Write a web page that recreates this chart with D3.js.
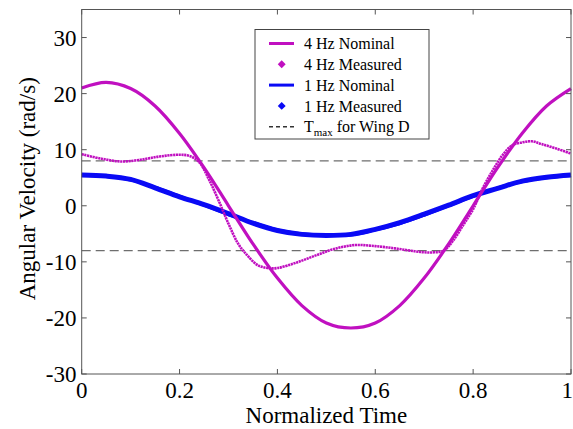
<!DOCTYPE html>
<html>
<head>
<meta charset="utf-8">
<script src="https://cdn.jsdelivr.net/npm/d3@7"></script>
<style>
  body { margin: 0; background: #fff; }
  svg { display: block; }
</style>
</head>
<body>
<div id="chart"></div>
<script>
// values
const nominalT = [0, 0.05, 0.1, 0.15, 0.2, 0.25, 0.3, 0.35, 0.4, 0.45, 0.5, 0.55, 0.6, 0.65, 0.7, 0.75, 0.8, 0.85, 0.9, 0.95, 1];
const nominal4Hz = [21.0, 22.0, 20.9, 17.8, 12.9, 6.8, 0.0, -6.8, -12.9, -17.8, -20.9, -21.8, -20.9, -17.8, -12.9, -6.8, 0.0, 6.8, 12.9, 17.8, 20.9];
const nominal1Hz = [5.4, 5.3, 4.6, 3.3, 1.7, 0.1, -1.6, -3.0, -4.3, -5.0, -5.3, -5.2, -4.3, -3.2, -1.7, 0.0, 1.7, 3.2, 4.3, 5.0, 5.4];

const measured4T = [0, 0.04, 0.08, 0.12, 0.16, 0.2, 0.22, 0.24, 0.26, 0.28, 0.3, 0.32, 0.34, 0.36, 0.38, 0.4, 0.44, 0.48, 0.52, 0.56, 0.6, 0.64, 0.68, 0.7, 0.72, 0.74, 0.76, 0.78, 0.8, 0.82, 0.84, 0.86, 0.88, 0.9, 0.92, 0.94, 0.97, 1];
const measured4Hz = [9.2, 8.4, 7.9, 8.2, 8.8, 9.1, 8.9, 7.8, 4.7, 0.9, -3.2, -6.8, -9.0, -10.6, -11.1, -11.1, -10.1, -8.8, -7.6, -7.0, -7.2, -7.6, -8.1, -8.3, -8.3, -8.0, -6.1, -3.4, -0.6, 3.2, 6.3, 9.0, 10.8, 11.3, 11.5, 11.0, 10.2, 9.3];

const measured1T = [0, 0.05, 0.1, 0.15, 0.2, 0.25, 0.3, 0.35, 0.4, 0.45, 0.5, 0.55, 0.6, 0.65, 0.7, 0.75, 0.8, 0.85, 0.9, 0.95, 1];
const measured1Hz = [5.5, 5.3, 4.7, 3.2, 1.6, 0.2, -1.4, -3.1, -4.4, -5.1, -5.3, -5.1, -4.2, -3.0, -1.5, 0.1, 1.8, 3.1, 4.4, 5.1, 5.5];

const tmax = 8;
const xTicks = [0, 0.2, 0.4, 0.6, 0.8, 1];
const yTicks = [-30, -20, -10, 0, 10, 20, 30];

const legendItems = [
  { label: '4 Hz Nominal', kind: 'line', color: '#c010c0' },
  { label: '4 Hz Measured', kind: 'diamond', color: '#c010c0' },
  { label: '1 Hz Nominal', kind: 'line', color: '#0a0af5' },
  { label: '1 Hz Measured', kind: 'diamond', color: '#0a0af5' },
  { label: 'Tmax', kind: 'dash', color: '#333' },
];

// pick the first serif face that is really there (fallback widths differ)
function pickFont(cands) {
  const ctx = document.createElement('canvas').getContext('2d');
  const probe = 'Normalized Time 0.123 Wg';
  ctx.font = '40px monospace';
  const mono = ctx.measureText(probe).width;
  ctx.font = '40px sans-serif';
  const sans = ctx.measureText(probe).width;
  for (const f of cands) {
    ctx.font = `40px "${f}", monospace`;
    const a = ctx.measureText(probe).width;
    ctx.font = `40px "${f}", sans-serif`;
    const b = ctx.measureText(probe).width;
    if (a !== mono || b !== sans) return `"${f}"`;
  }
  return 'serif';
}
const serif = pickFont(['Liberation Serif', 'Times New Roman', 'Tinos', 'DejaVu Serif', 'Noto Serif', 'FreeSerif', 'Nimbus Roman', 'Times']) + ', serif';

const W = 573, H = 429;
const margin = { top: 9.5, right: 2, bottom: 55, left: 81.7 };
const fs = 23;

const svg = d3.select('#chart').append('svg')
  .attr('width', W)
  .attr('height', H)
  .style('font-family', serif);

const x = d3.scaleLinear().domain([0, 1]).range([margin.left, W - margin.right]);
const y = d3.scaleLinear().domain([-30, 35]).range([H - margin.bottom, margin.top]);

const axisColor = '#555';

// Tmax lines
svg.append('g').selectAll('line')
  .data([tmax, -tmax])
  .enter().append('line')
    .attr('x1', x(0)).attr('x2', x(1))
    .attr('y1', d => y(d)).attr('y2', d => y(d))
    .attr('stroke', '#6e6e6e')
    .attr('stroke-width', 1.4)
    .attr('stroke-dasharray', '9,5');

const line = d3.line()
  .x(d => x(d[0]))
  .y(d => y(d[1]))
  .curve(d3.curveCatmullRom.alpha(0.5));

const zip = (a, b) => a.map((t, i) => [t, b[i]]);

// 1 Hz first, 4 Hz on top
svg.append('path')
  .attr('d', line(zip(measured1T, measured1Hz)))
  .attr('fill', 'none').attr('stroke', '#0a0af5').attr('stroke-width', 5);
svg.append('path')
  .attr('d', line(zip(nominalT, nominal1Hz)))
  .attr('fill', 'none').attr('stroke', '#0a0af5').attr('stroke-width', 3);

svg.append('path')
  .attr('d', line(zip(nominalT, nominal4Hz)))
  .attr('fill', 'none').attr('stroke', '#c010c0').attr('stroke-width', 3.2);
svg.append('path')
  .attr('d', line(zip(measured4T, measured4Hz)))
  .attr('fill', 'none').attr('stroke', '#c010c0').attr('stroke-width', 2.6)
  .attr('stroke-dasharray', '2.2,0.6');

// box + ticks on all four sides
const x0 = x(0), x1 = x(1), y0 = y(-30), y1 = y(35);
const tickLen = 5;
const frame = svg.append('g').attr('stroke', axisColor).attr('stroke-width', 1).attr('fill', 'none');
frame.append('rect')
  .attr('x', x0).attr('y', y1)
  .attr('width', x1 - x0).attr('height', y0 - y1);
frame.selectAll('.xt').data(xTicks).enter().append('path')
  .attr('d', d => `M${x(d)},${y0}v${-tickLen}M${x(d)},${y1}v${tickLen}`);
frame.selectAll('.yt').data(yTicks).enter().append('path')
  .attr('d', d => `M${x0},${y(d)}h${tickLen}M${x1},${y(d)}h${-tickLen}`);

// tick labels (last one sits on the page edge, like the original)
svg.append('g').selectAll('text')
  .data(xTicks)
  .enter().append('text')
    .attr('x', d => d === 1 ? W : x(d))
    .attr('y', 398)
    .attr('text-anchor', d => d === 1 ? 'end' : 'middle')
    .attr('font-size', fs)
    .text(d => d3.format('~g')(d));

svg.append('g').selectAll('text')
  .data(yTicks)
  .enter().append('text')
    .attr('x', 76.5)
    .attr('y', d => y(d))
    .attr('dy', '0.35em')
    .attr('text-anchor', 'end')
    .attr('font-size', fs)
    .text(d => d);

// axis titles
svg.append('text')
  .attr('x', (x0 + x1) / 2)
  .attr('y', 423)
  .attr('text-anchor', 'middle')
  .attr('font-size', fs)
  .text('Normalized Time');

svg.append('text')
  .attr('transform', `translate(35,${(y0 + y1) / 2 - 3}) rotate(-90)`)
  .attr('text-anchor', 'middle')
  .attr('font-size', fs)
  .text('Angular Velocity (rad/s)');

// legend
const lg = svg.append('g');
lg.append('rect')
  .attr('x', 255).attr('y', 29.5)
  .attr('width', 174).attr('height', 109.5)
  .attr('fill', '#fff').attr('stroke', '#444').attr('stroke-width', 1);

const rows = lg.selectAll('.row')
  .data(legendItems)
  .enter().append('g')
    .attr('transform', (d, i) => `translate(0,${43.5 + i * 20.8})`);

rows.filter(d => d.kind === 'line').append('line')
  .attr('x1', 269).attr('x2', 294)
  .attr('stroke', d => d.color).attr('stroke-width', 3);
rows.filter(d => d.kind === 'dash').append('line')
  .attr('x1', 269).attr('x2', 295)
  .attr('stroke', d => d.color).attr('stroke-width', 1.4)
  .attr('stroke-dasharray', '4,3');
rows.filter(d => d.kind === 'diamond').append('path')
  .attr('d', d3.symbol(d3.symbolDiamond2, 40))
  .attr('transform', 'translate(281.7,0)')
  .attr('fill', d => d.color);

const labels = rows.append('text')
  .attr('x', 304)
  .attr('dy', '0.35em')
  .attr('font-size', 16);
labels.filter(d => d.kind !== 'dash').text(d => d.label);
const tm = labels.filter(d => d.kind === 'dash');
tm.append('tspan').text('T');
tm.append('tspan').attr('font-size', 11).attr('dy', 4).text('max');
tm.append('tspan').attr('dy', -4).text(' for Wing D');
</script>
</body>
</html>
